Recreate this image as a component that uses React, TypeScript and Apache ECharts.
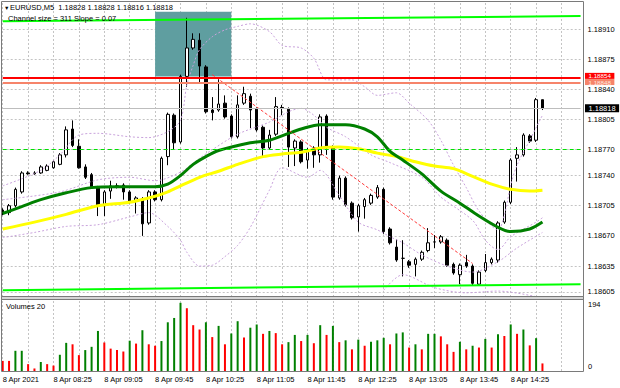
import React, { useEffect, useRef } from "react";
import * as echarts from "echarts";

// ---------- data ----------
const symbolName = "EURUSD,M5";
const firstDateLabel = "8 Apr 2021";
const dayPrefix = "8 Apr ";
const startMinutes = 7 * 60 + 45; // first bar 07:45
const barMinutes = 5;
const categoryCount = 92;

const opens = [1.18700, 1.18697, 1.18705, 1.18721, 1.18743, 1.18742, 1.18743, 1.18746, 1.18749, 1.18753,
  1.18764, 1.18794, 1.18774, 1.18750, 1.18741, 1.18727, 1.18705, 1.18722, 1.18728, 1.18729,
  1.18721, 1.18710, 1.18713, 1.18685, 1.18721, 1.18712, 1.18762, 1.18810, 1.18779, 1.18855,
  1.18888, 1.18897, 1.18866, 1.18816, 1.18816, 1.18824, 1.18809, 1.18785, 1.18824, 1.18832,
  1.18817, 1.18796, 1.18772, 1.18788, 1.18819, 1.18817, 1.18772, 1.18779, 1.18758, 1.18772,
  1.18764, 1.18809, 1.18773, 1.18714, 1.18737, 1.18708, 1.18692, 1.18704, 1.18708, 1.18715,
  1.18724, 1.18678, 1.18657, 1.18644, 1.18640, 1.18637, 1.18643, 1.18653, 1.18663, 1.18663,
  1.18665, 1.18637, 1.18625, 1.18639, 1.18635, 1.18614, 1.18630, 1.18639, 1.18642, 1.18686,
  1.18709, 1.18760, 1.18764, 1.18786, 1.18781, 1.18828];
const highs = [1.18702, 1.18707, 1.18726, 1.18745, 1.18745, 1.18745, 1.18752, 1.18753, 1.18758, 1.18766,
  1.18797, 1.18804, 1.18782, 1.18753, 1.18743, 1.18728, 1.18723, 1.18734, 1.18731, 1.18731,
  1.18723, 1.18716, 1.18715, 1.18723, 1.18723, 1.18762, 1.18813, 1.18812, 1.18857, 1.18923,
  1.18905, 1.18905, 1.18868, 1.18831, 1.18854, 1.18833, 1.18811, 1.18833, 1.18843, 1.18835,
  1.18819, 1.18798, 1.18793, 1.18831, 1.18822, 1.18819, 1.18782, 1.18781, 1.18772, 1.18774,
  1.18811, 1.18811, 1.18775, 1.18740, 1.18739, 1.18710, 1.18707, 1.18714, 1.18719, 1.18729,
  1.18726, 1.18680, 1.18666, 1.18665, 1.18642, 1.18645, 1.18653, 1.18679, 1.18671, 1.18671,
  1.18667, 1.18639, 1.18638, 1.18648, 1.18637, 1.18630, 1.18649, 1.18645, 1.18687, 1.18711,
  1.18760, 1.18773, 1.18789, 1.18788, 1.18830, 1.18828];
const lows = [1.18694, 1.18694, 1.18703, 1.18719, 1.18741, 1.18741, 1.18742, 1.18745, 1.18748, 1.18752,
  1.18761, 1.18773, 1.18748, 1.18736, 1.18726, 1.18693, 1.18693, 1.18713, 1.18725, 1.18712,
  1.18707, 1.18696, 1.18670, 1.18683, 1.18710, 1.18710, 1.18752, 1.18770, 1.18777, 1.18843,
  1.18886, 1.18847, 1.18812, 1.18804, 1.18814, 1.18806, 1.18783, 1.18783, 1.18822, 1.18795,
  1.18791, 1.18762, 1.18770, 1.18786, 1.18810, 1.18750, 1.18751, 1.18754, 1.18748, 1.18749,
  1.18755, 1.18764, 1.18712, 1.18712, 1.18704, 1.18689, 1.18675, 1.18690, 1.18706, 1.18713,
  1.18672, 1.18660, 1.18640, 1.18623, 1.18633, 1.18623, 1.18641, 1.18651, 1.18656, 1.18661,
  1.18634, 1.18625, 1.18614, 1.18633, 1.18613, 1.18612, 1.18628, 1.18637, 1.18639, 1.18684,
  1.18707, 1.18733, 1.18762, 1.18778, 1.18779, 1.18816];
const closes = [1.18697, 1.18705, 1.18724, 1.18743, 1.18742, 1.18743, 1.18750, 1.18751, 1.18756, 1.18764,
  1.18793, 1.18775, 1.18749, 1.18738, 1.18727, 1.18705, 1.18721, 1.18728, 1.18728, 1.18721,
  1.18709, 1.18714, 1.18684, 1.18721, 1.18712, 1.18760, 1.18811, 1.18778, 1.18855, 1.18888,
  1.18898, 1.18867, 1.18814, 1.18813, 1.18823, 1.18808, 1.18785, 1.18822, 1.18835, 1.18816,
  1.18793, 1.18772, 1.18787, 1.18820, 1.18818, 1.18773, 1.18780, 1.18756, 1.18770, 1.18764,
  1.18808, 1.18773, 1.18715, 1.18737, 1.18706, 1.18691, 1.18705, 1.18712, 1.18717, 1.18726,
  1.18675, 1.18662, 1.18642, 1.18644, 1.18636, 1.18643, 1.18651, 1.18662, 1.18663, 1.18669,
  1.18636, 1.18627, 1.18636, 1.18635, 1.18615, 1.18628, 1.18639, 1.18643, 1.18685, 1.18709,
  1.18758, 1.18764, 1.18787, 1.18780, 1.18828, 1.18818];
const volumes = [28, 28, 56, 56, 19, 7, 25, 19, 15, 45,
  78, 74, 44, 58, 67, 111, 79, 62, 58, 54,
  84, 76, 113, 74, 70, 83, 135, 147, 189, 174,
  127, 115, 135, 94, 125, 74, 104, 138, 93, 120,
  129, 103, 111, 105, 74, 80, 100, 83, 100, 77,
  127, 100, 125, 80, 85, 60, 87, 70, 81, 85,
  92, 74, 104, 107, 65, 74, 60, 103, 103, 96,
  74, 53, 81, 60, 70, 65, 89, 65, 102, 97,
  129, 103, 115, 71, 91, 21];

// moving averages and bands: [bar index, price]
const maGreen = [[0, 1.18696], [3, 1.18704], [6, 1.18712], [10, 1.18720], [14, 1.18726], [18, 1.18727],
  [24, 1.18727], [26, 1.18730], [28, 1.18740], [30, 1.18753], [32, 1.18762], [34, 1.18769],
  [39, 1.18778], [42, 1.18781], [45, 1.18789], [47, 1.18794], [50, 1.18799], [54, 1.18799],
  [57, 1.18794], [59, 1.18785], [61, 1.18768], [63, 1.18758], [66, 1.18742], [69, 1.18722],
  [72, 1.18708], [75, 1.18693], [78, 1.18680], [80, 1.18675], [83, 1.18678], [85, 1.18686]];
const maYellow = [[0, 1.18678], [5, 1.18686], [10, 1.18695], [15, 1.18705], [20, 1.18709], [24, 1.18716],
  [26, 1.18721], [28, 1.18728], [31, 1.18738], [34, 1.18745], [37, 1.18753], [41, 1.18762],
  [44, 1.18765], [47, 1.18767], [50, 1.18772], [53, 1.18773], [56, 1.18771], [59, 1.18766],
  [62, 1.18762], [65, 1.18756], [68, 1.18751], [71, 1.18748], [74, 1.18739], [77, 1.18730],
  [80, 1.18724], [83, 1.18722], [85, 1.18723]];
const bandOuterUpper = [[0, 1.18728], [6, 1.18746], [9, 1.18764], [12, 1.18787], [15, 1.18789], [20, 1.18785],
  [23, 1.18784], [26, 1.18791], [28, 1.18804], [29, 1.18845], [30, 1.18868], [31, 1.18886],
  [33, 1.18901], [35, 1.18909], [37, 1.18913], [39, 1.18916], [42, 1.18907], [44, 1.18891],
  [47, 1.18888], [49, 1.18876], [51, 1.18851], [53, 1.18851], [55, 1.18851], [57, 1.18843],
  [59, 1.18833], [62, 1.18836], [64, 1.18824], [67, 1.18804], [69, 1.18781], [71, 1.18752],
  [73, 1.18726], [75, 1.18699], [78, 1.18677], [79, 1.18694], [80, 1.18729], [81, 1.18752],
  [83, 1.18781], [85, 1.18810]];
const bandInnerUpper = [[0, 1.18712], [9, 1.18721], [15, 1.18735], [20, 1.18738], [24, 1.18734], [28, 1.18744],
  [31, 1.18760], [33, 1.18770], [37, 1.18788], [42, 1.18802], [45, 1.18814], [47, 1.18818],
  [49, 1.18810], [51, 1.18796], [54, 1.18785], [58, 1.18764], [61, 1.18755], [66, 1.18738],
  [69, 1.18715], [74, 1.18688], [76, 1.18665], [78, 1.18654], [80, 1.18669], [84, 1.18686],
  [85, 1.18691]];
const bandInnerLower = [[0, 1.18668], [5, 1.18674], [10, 1.18681], [15, 1.18683], [20, 1.18692], [23, 1.18697],
  [26, 1.18681], [28, 1.18665], [29, 1.18651], [31, 1.18635], [33, 1.18636], [35, 1.18646],
  [37, 1.18659], [39, 1.18680], [42, 1.18723], [44, 1.18749], [48, 1.18738], [50, 1.18746],
  [53, 1.18717], [56, 1.18686], [59, 1.18677], [61, 1.18669], [63, 1.18662], [66, 1.18648],
  [70, 1.18635], [74, 1.18628], [78, 1.18640], [81, 1.18656], [85, 1.18674]];
const bandOuterLower = [[60, 1.18607], [63, 1.18625], [68, 1.18610], [73, 1.18604], [78, 1.18606], [85, 1.18598]];

const channelTop = [[0, 1.18919], [91, 1.18925]];
const channelBottom = [[0, 1.18607], [91, 1.18614]];
const regressionLine = [[33, 1.18857], [74, 1.18638]];
const channelSize = 311;
const channelSlope = 0.07;

const gridPrices = [1.18910, 1.18875, 1.18840, 1.18805, 1.18770, 1.18740, 1.18705, 1.18670, 1.18635, 1.18605];
const levelHigh = 1.18854;
const levelLow = 1.18848;
const bidPrice = 1.18818;
const dashedLevel = 1.18770;
const zoneBars = [24, 36];
const zonePrices = [1.18930, 1.18855];
const volumeMax = 194;
const volumePeriod = 20;

// ---------- layout / style ----------
const FONT = "'Liberation Sans', 'DejaVu Sans', Arial, sans-serif";
const FS = 7.5;
const X0 = 2.7;
const STEP = 6.35;
const GRID_W = STEP * (categoryCount - 1);
const MAIN_TOP = 3;
const MAIN_H = 293;
const VOL_TOP = 301;
const VOL_H = 70;
const PX = 0.0000116; // price per pixel
const PRICE_MAX = 1.18910 + 26 * PX;
const PRICE_MIN = 1.18910 - 267 * PX;
const TAG_X = 585;

const pad2 = (n: number) => String(n).padStart(2, "0");
const categories = Array.from({ length: categoryCount }, (_, i) => {
  const m = startMinutes + barMinutes * i;
  return `${pad2(Math.floor(m / 60))}:${pad2(m % 60)}`;
});

const volColors: string[] = [];
volumes.forEach((v, i) => {
  if (i === 0) volColors.push("#ff0000");
  else if (v > volumes[i - 1]) volColors.push("#008000");
  else if (v < volumes[i - 1]) volColors.push("#ff0000");
  else volColors.push(volColors[i - 1]);
});

const bandStyle = { width: 1, type: [2, 2] as number[], color: "#c9a3dc" };
const textStyle = { fontSize: FS, fontFamily: FONT, fill: "#000", verticalAlign: "middle", align: "left" };
const last = opens.length - 1;

function buildOption(): any {
  const lineSeries = (name: string, data: number[][], lineStyle: any, z: number, smooth: number | boolean = 0.3) => ({
    name, type: "line", xAxisIndex: 0, yAxisIndex: 0, data, smooth, symbol: "none", showSymbol: false,
    silent: true, lineStyle, z,
  });
  return {
    animation: false,
    backgroundColor: "#ffffff",
    grid: [
      { left: X0, top: MAIN_TOP, width: GRID_W, height: MAIN_H, outerBoundsMode: "none" },
      { left: X0, top: VOL_TOP, width: GRID_W, height: VOL_H, outerBoundsMode: "none" },
    ],
    xAxis: [
      {
        type: "category", gridIndex: 0, data: categories, boundaryGap: false,
        axisLine: { show: false }, axisTick: { show: false }, axisLabel: { show: false },
        splitLine: { show: true, interval: 3, lineStyle: { color: "#c4c4c4", type: [2, 2], width: 1 } },
      },
      {
        type: "category", gridIndex: 1, data: categories, boundaryGap: false,
        axisLine: { show: true, lineStyle: { color: "#7a7a7a", width: 1 } },
        axisTick: { show: false },
        axisLabel: {
          show: true, interval: 7, align: "left", margin: 4, fontSize: FS, fontFamily: FONT, color: "#000",
          formatter: (v: string, idx: number) => (idx > last ? "" : idx === 0 ? firstDateLabel : dayPrefix + v),
        },
        splitLine: { show: true, interval: 3, lineStyle: { color: "#c4c4c4", type: [2, 2], width: 1 } },
      },
    ],
    yAxis: [
      {
        type: "value", gridIndex: 0, min: PRICE_MIN, max: PRICE_MAX, position: "right",
        axisLine: { show: false }, axisTick: { show: false }, axisLabel: { show: false }, splitLine: { show: false },
      },
      {
        type: "value", gridIndex: 1, min: 0, max: volumeMax, position: "right",
        axisLine: { show: false }, axisTick: { show: false }, axisLabel: { show: false }, splitLine: { show: false },
      },
    ],
    series: [
      {
        name: "price", type: "candlestick", xAxisIndex: 0, yAxisIndex: 0, barWidth: 3, z: 2, silent: true,
        data: opens.map((o, i) => [o, closes[i], lows[i], highs[i]]),
        itemStyle: { color: "#ffffff", color0: "#000000", borderColor: "#000000", borderColor0: "#000000", borderWidth: 1 },
        markArea: {
          silent: true, z: 1, label: { show: false },
          itemStyle: { color: "#5f9ea0", opacity: 1 },
          data: [[{ xAxis: zoneBars[0], yAxis: zonePrices[0] }, { xAxis: zoneBars[1], yAxis: zonePrices[1] }]],
        },
        markLine: {
          silent: true, z: 0, symbol: ["none", "none"], precision: 5,
          lineStyle: { color: "#c4c4c4", type: [2, 2], width: 1 },
          label: { show: true, position: "end", distance: 7, color: "#000", fontSize: FS, fontFamily: FONT, formatter: "{b}" },
          data: gridPrices.map((v) => ({ yAxis: v, name: v.toFixed(5) })),
        },
      },
      {
        name: "volume", type: "bar", xAxisIndex: 1, yAxisIndex: 1, barWidth: 2, silent: true,
        data: volumes.map((v, i) => ({ value: v, itemStyle: { color: volColors[i] } })),
      },
      lineSeries("bandOuterUpper", bandOuterUpper, bandStyle, 3),
      lineSeries("bandInnerUpper", bandInnerUpper, bandStyle, 3),
      lineSeries("bandInnerLower", bandInnerLower, bandStyle, 3),
      lineSeries("bandOuterLower", bandOuterLower, bandStyle, 3),
      lineSeries("maYellow", maYellow, { width: 3, color: "#ffff00" }, 3),
      lineSeries("maGreen", maGreen, { width: 3, color: "#008000" }, 3),
      lineSeries("regression", regressionLine, { width: 1, type: [3, 2], color: "#ff3b3b" }, 4, false),
      lineSeries("channelBottom", channelBottom, { width: 2, color: "#00ff00" }, 4, false),
      {
        ...lineSeries("channelTop", channelTop, { width: 2, color: "#00ff00" }, 4, false),
        markLine: {
          silent: true, z: 5, symbol: ["none", "none"], precision: 5, label: { show: false },
          data: [
            { yAxis: dashedLevel, lineStyle: { color: "#00e000", width: 1, type: [4, 3] } },
            { yAxis: bidPrice, lineStyle: { color: "#bdbdbd", width: 1, type: "solid" } },
            { yAxis: levelLow, lineStyle: { color: "#f6846a", width: 2, type: "solid" } },
            { yAxis: levelHigh, lineStyle: { color: "#ff0000", width: 2, type: "solid" } },
          ],
        },
      },
    ],
  };
}

function buildGraphic(chart: echarts.ECharts): any[] {
  const py = (v: number) => chart.convertToPixel({ yAxisIndex: 0 }, v) as number;
  const header = `${symbolName}  ${opens[last].toFixed(5)} ${highs[last].toFixed(5)} ${lows[last].toFixed(5)} ${closes[last].toFixed(5)}`;
  const tag = (id: string, v: number, dy: number, bg: string, fg: string, fs: number) => ({
    id, type: "text", silent: true, z: 102, x: TAG_X, y: py(v) + dy,
    style: { ...textStyle, text: v.toFixed(5), fontSize: fs, fill: fg, backgroundColor: bg, padding: [0, 3.5, 0, 3.5] },
  });
  return [
    { id: "frame", type: "rect", silent: true, z: 100, shape: { x: 1.5, y: 1.5, width: 582, height: 370 }, style: { fill: "none", stroke: "#7a7a7a", lineWidth: 1 } },
    { id: "sep", type: "rect", silent: true, z: 100, shape: { x: 1.5, y: 296.5, width: 582, height: 3 }, style: { fill: "#d6d6d6", stroke: "#7a7a7a", lineWidth: 1 } },
    { id: "tri", type: "text", silent: true, z: 101, x: 4, y: 7.5, style: { ...textStyle, text: "▼", fontSize: 5.5 } },
    { id: "hdr", type: "text", silent: true, z: 101, x: 10, y: 7.5, style: { ...textStyle, text: header } },
    { id: "chan", type: "text", silent: true, z: 101, x: 8, y: 18.5, style: { ...textStyle, text: `Channel size = ${channelSize} Slope = ${channelSlope.toFixed(2)}` } },
    { id: "vol", type: "text", silent: true, z: 101, x: 6, y: 306, style: { ...textStyle, text: `Volumes ${volumePeriod}` } },
    { id: "vmax", type: "text", silent: true, z: 101, x: 588, y: VOL_TOP + 3.5, style: { ...textStyle, text: String(volumeMax) } },
    { id: "vmin", type: "text", silent: true, z: 101, x: 588, y: VOL_TOP + VOL_H - 4.5, style: { ...textStyle, text: "0" } },
    tag("tagHigh", levelHigh, -1.4, "#ff0000", "#ffffff", 6.2),
    tag("tagLow", levelLow, -0.4, "#f6846a", "#ffe8e0", 6.2),
    tag("tagBid", bidPrice, 0, "#000000", "#ffffff", FS),
  ];
}

export default function App() {
  const ref = useRef<HTMLDivElement>(null);
  useEffect(() => {
    document.body.style.margin = "0";
    if (!ref.current) return;
    const chart = echarts.init(ref.current, undefined, { renderer: "svg" });
    chart.setOption(buildOption());
    chart.setOption({ graphic: buildGraphic(chart) });
    return () => chart.dispose();
  }, []);
  return <div ref={ref} style={{ width: 620, height: 388, background: "#ffffff" }} />;
}
